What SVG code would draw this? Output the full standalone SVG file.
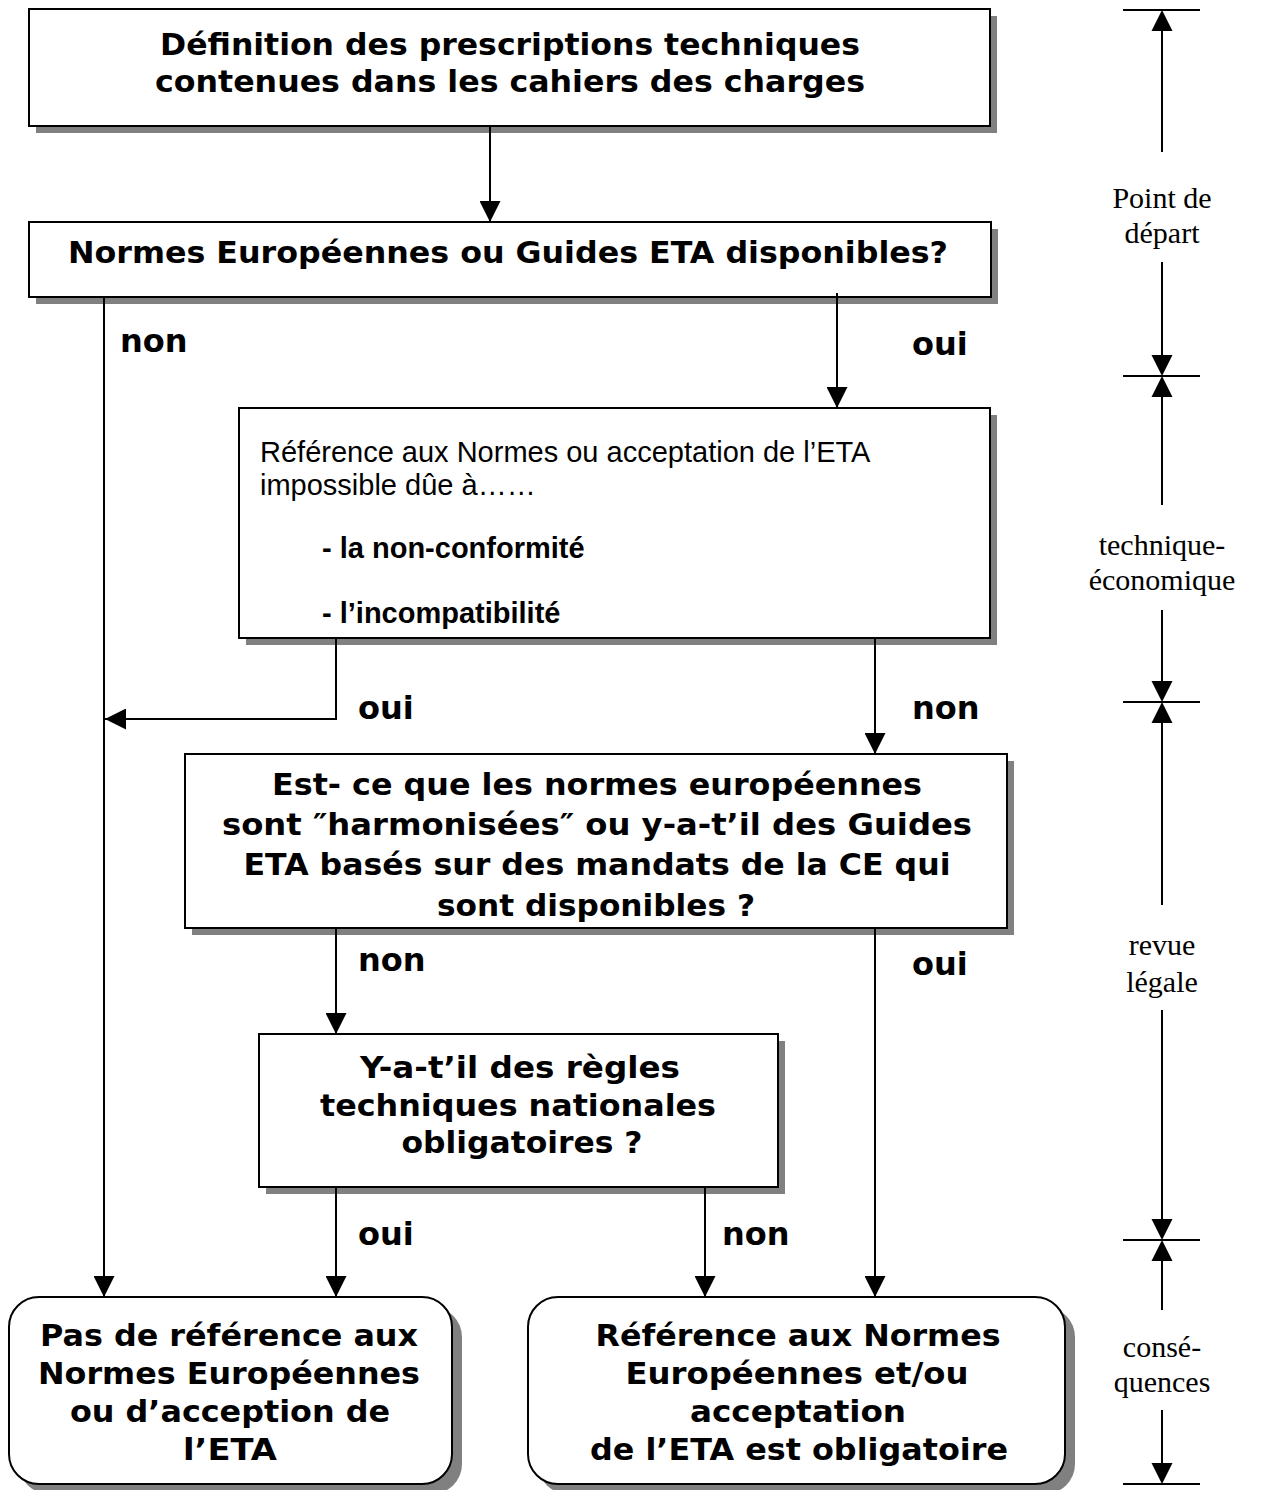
<svg xmlns="http://www.w3.org/2000/svg" width="1262" height="1490" viewBox="0 0 1262 1490">
<style>
.box{fill:#fff;stroke:#000;stroke-width:2}
.sh{fill:#808080}
.t{font-family:"DejaVu Sans",Verdana,sans-serif;font-weight:bold;font-size:30px;text-anchor:middle;fill:#000}
.lbl{font-family:"DejaVu Sans",Verdana,sans-serif;font-weight:bold;font-size:32px;fill:#000}
.ar{font-family:"Liberation Sans",Arial,sans-serif;font-size:29px;fill:#000}
.arb{font-family:"Liberation Sans",Arial,sans-serif;font-size:29px;font-weight:bold;fill:#000}
.tm{font-family:"Liberation Serif","Times New Roman",serif;font-size:30px;text-anchor:middle;fill:#000}
.conn{stroke:#000;stroke-width:2;fill:none}
</style>
<defs>
<marker id="ah" markerUnits="userSpaceOnUse" markerWidth="21" markerHeight="21" viewBox="0 0 20 20" refX="20" refY="10" orient="auto"><path d="M0,0 L20,10 L0,20 z" fill="#000"/></marker>
<clipPath id="c4"><rect x="185" y="754" width="822" height="170"/></clipPath>
</defs>
<rect width="1262" height="1490" fill="#fff"/>

<g id="n1">
<rect class="sh" x="36" y="16" width="961" height="117"/>
<rect class="box" x="29" y="9" width="961" height="117"/>
<text class="t" x="510" y="55" textLength="700" lengthAdjust="spacingAndGlyphs">Définition des prescriptions techniques</text>
<text class="t" x="510" y="92" textLength="710" lengthAdjust="spacingAndGlyphs">contenues dans les cahiers des charges</text>
</g>

<g id="n2">
<rect class="sh" x="36" y="229" width="962" height="75"/>
<rect class="box" x="29" y="222" width="962" height="75"/>
<text class="t" x="508" y="263" textLength="880" lengthAdjust="spacingAndGlyphs">Normes Européennes ou Guides ETA disponibles?</text>
</g>

<g id="n3">
<rect class="sh" x="246" y="415" width="751" height="230"/>
<rect class="box" x="239" y="408" width="751" height="230"/>
<text class="ar" x="260" y="462">Référence aux Normes ou acceptation de l’ETA</text>
<text class="ar" x="260" y="495">impossible dûe à……</text>
<text class="arb" x="322" y="558">- la non-conformité</text>
<text class="arb" x="322" y="623">- l’incompatibilité</text>
</g>

<g id="n4">
<rect class="sh" x="192" y="761" width="822" height="174"/>
<rect x="185" y="754" width="822" height="174" fill="#fff"/>
<g clip-path="url(#c4)">
<text class="t" x="597" y="795" textLength="650" lengthAdjust="spacingAndGlyphs">Est- ce que les normes européennes</text>
<text class="t" x="597" y="835" textLength="750" lengthAdjust="spacingAndGlyphs">sont ″harmonisées″ ou y-a-t’il des Guides</text>
<text class="t" x="597" y="875" textLength="707" lengthAdjust="spacingAndGlyphs">ETA basés sur des mandats de la CE qui</text>
<text class="t" x="596" y="916" textLength="318" lengthAdjust="spacingAndGlyphs">sont disponibles ?</text>
</g>
<rect x="185" y="754" width="822" height="174" fill="none" stroke="#000" stroke-width="2"/>
</g>

<g id="n5">
<rect class="sh" x="266" y="1041" width="519" height="153"/>
<rect class="box" x="259" y="1034" width="519" height="153"/>
<text class="t" x="520" y="1078" textLength="320" lengthAdjust="spacingAndGlyphs">Y-a-t’il des règles</text>
<text class="t" x="518" y="1116" textLength="396" lengthAdjust="spacingAndGlyphs">techniques nationales</text>
<text class="t" x="522" y="1153" textLength="241" lengthAdjust="spacingAndGlyphs">obligatoires ?</text>
</g>

<g id="n6">
<rect class="sh" x="19" y="1307" width="443" height="187" rx="30"/>
<rect class="box" x="9" y="1297" width="443" height="187" rx="30"/>
<text class="t" x="229" y="1346" textLength="378" lengthAdjust="spacingAndGlyphs">Pas de référence aux</text>
<text class="t" x="229" y="1384" textLength="382" lengthAdjust="spacingAndGlyphs">Normes Européennes</text>
<text class="t" x="230" y="1422" textLength="320" lengthAdjust="spacingAndGlyphs">ou d’acception de</text>
<text class="t" x="230" y="1460" textLength="94" lengthAdjust="spacingAndGlyphs">l’ETA</text>
</g>

<g id="n7">
<rect class="sh" x="538" y="1307" width="537" height="187" rx="30"/>
<rect class="box" x="528" y="1297" width="537" height="187" rx="30"/>
<text class="t" x="798" y="1346" textLength="405" lengthAdjust="spacingAndGlyphs">Référence aux Normes</text>
<text class="t" x="797" y="1384" textLength="343" lengthAdjust="spacingAndGlyphs">Européennes et/ou</text>
<text class="t" x="798" y="1422" textLength="216" lengthAdjust="spacingAndGlyphs">acceptation</text>
<text class="t" x="799" y="1460" textLength="418" lengthAdjust="spacingAndGlyphs">de l’ETA est obligatoire</text>
</g>

<g id="connectors">
<path class="conn" d="M490,126 V222" marker-end="url(#ah)"/>
<path class="conn" d="M104,297 V1297" marker-end="url(#ah)"/>
<path class="conn" d="M837,293 V408" marker-end="url(#ah)"/>
<path class="conn" d="M336,638 V719 H105" marker-end="url(#ah)"/>
<path class="conn" d="M875,638 V754" marker-end="url(#ah)"/>
<path class="conn" d="M336,928 V1034" marker-end="url(#ah)"/>
<path class="conn" d="M875,928 V1297" marker-end="url(#ah)"/>
<path class="conn" d="M336,1187 V1297" marker-end="url(#ah)"/>
<path class="conn" d="M705,1187 V1297" marker-end="url(#ah)"/>
</g>

<g id="labels">
<text class="lbl" x="120" y="352">non</text>
<text class="lbl" x="912" y="355">oui</text>
<text class="lbl" x="358" y="719">oui</text>
<text class="lbl" x="912" y="719">non</text>
<text class="lbl" x="358" y="971">non</text>
<text class="lbl" x="912" y="975">oui</text>
<text class="lbl" x="358" y="1245">oui</text>
<text class="lbl" x="722" y="1245">non</text>
</g>

<g id="scale">
<g stroke="#000" stroke-width="2">
<line x1="1123" y1="10" x2="1200" y2="10"/>
<line x1="1123" y1="376" x2="1200" y2="376"/>
<line x1="1123" y1="702" x2="1200" y2="702"/>
<line x1="1123" y1="1240" x2="1200" y2="1240"/>
<line x1="1123" y1="1484" x2="1200" y2="1484"/>
<line x1="1162" y1="30" x2="1162" y2="152"/>
<line x1="1162" y1="262" x2="1162" y2="356"/>
<line x1="1162" y1="396" x2="1162" y2="505"/>
<line x1="1162" y1="610" x2="1162" y2="682"/>
<line x1="1162" y1="722" x2="1162" y2="905"/>
<line x1="1162" y1="1010" x2="1162" y2="1220"/>
<line x1="1162" y1="1260" x2="1162" y2="1310"/>
<line x1="1162" y1="1410" x2="1162" y2="1464"/>
</g>
<g fill="#000">
<polygon points="1162,10 1151.5,31 1172.5,31"/>
<polygon points="1162,376 1151.5,355 1172.5,355"/>
<polygon points="1162,376 1151.5,397 1172.5,397"/>
<polygon points="1162,702 1151.5,681 1172.5,681"/>
<polygon points="1162,702 1151.5,723 1172.5,723"/>
<polygon points="1162,1240 1151.5,1219 1172.5,1219"/>
<polygon points="1162,1240 1151.5,1261 1172.5,1261"/>
<polygon points="1162,1484 1151.5,1463 1172.5,1463"/>
</g>
<text class="tm" x="1162" y="208">Point de</text>
<text class="tm" x="1162" y="243">départ</text>
<text class="tm" x="1162" y="555">technique-</text>
<text class="tm" x="1162" y="590">économique</text>
<text class="tm" x="1162" y="955">revue</text>
<text class="tm" x="1162" y="992">légale</text>
<text class="tm" x="1162" y="1357">consé-</text>
<text class="tm" x="1162" y="1392">quences</text>
</g>
</svg>
